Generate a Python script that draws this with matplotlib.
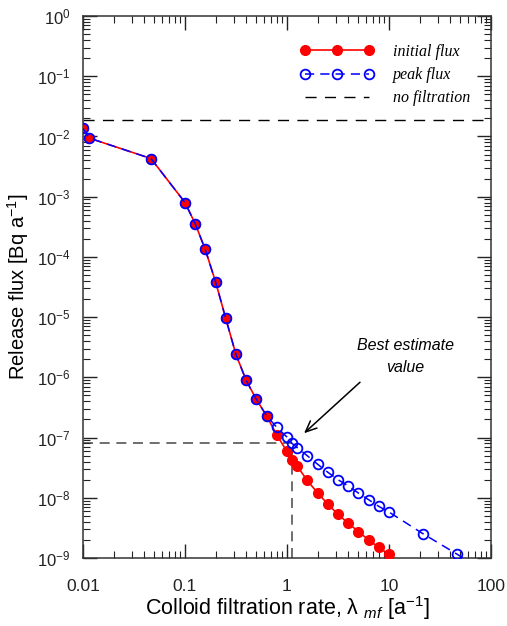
import numpy as np
import matplotlib
matplotlib.use("Agg")
from matplotlib import pyplot as plt
from matplotlib.ticker import LogLocator, FuncFormatter, NullFormatter

plt.rcParams["font.family"] = ["Liberation Sans", "DejaVu Sans"]
plt.rcParams["mathtext.fontset"] = "custom"
plt.rcParams["mathtext.rm"] = "Liberation Sans"
plt.rcParams["mathtext.it"] = "Liberation Sans:italic"

# colloid filtration rate [1/a]
rate = [0.01, 0.0115, 0.0464, 0.1, 0.126, 0.158, 0.2, 0.251, 0.316, 0.398,
        0.501, 0.631, 0.794, 1.0, 1.12, 1.26, 1.58, 2.0, 2.51, 3.16,
        3.98, 5.01, 6.31, 7.94, 10.0, 21.5]
initial_flux = [1.36e-2, 9.4e-3, 4.3e-3, 8.0e-4, 3.55e-4, 1.33e-4, 3.8e-5,
                9.5e-6, 2.4e-6, 8.9e-7, 4.3e-7, 2.3e-7, 1.1e-7, 5.9e-8,
                4.2e-8, 3.35e-8, 1.94e-8, 1.2e-8, 7.9e-9, 5.3e-9, 3.8e-9,
                2.75e-9, 2.0e-9, 1.5e-9, 1.15e-9, 4.3e-10]

rate_peak = [0.01, 0.0115, 0.0464, 0.1, 0.126, 0.158, 0.2, 0.251, 0.316, 0.398,
             0.501, 0.631, 0.794, 1.0, 1.12, 1.26, 1.58, 2.0, 2.51, 3.16,
             3.98, 5.01, 6.31, 7.94, 10.0, 21.4, 46.8, 100.0]
peak_flux = [1.36e-2, 9.4e-3, 4.3e-3, 8.0e-4, 3.55e-4, 1.33e-4, 3.8e-5,
             9.5e-6, 2.4e-6, 8.9e-7, 4.3e-7, 2.3e-7, 1.48e-7, 1.02e-7,
             8.0e-8, 6.8e-8, 5.0e-8, 3.6e-8, 2.66e-8, 2.0e-8, 1.58e-8,
             1.2e-8, 9.3e-9, 7.2e-9, 5.8e-9, 2.55e-9, 1.15e-9, 5.0e-10]

no_filtration = 1.87e-2
best_rate = 1.11
best_flux = 8.2e-8

fig = plt.figure(figsize=(5.07, 6.26), dpi=100)
ax = fig.add_axes([0.1637, 0.1086, 0.8047, 0.8658])

ax.plot(rate, initial_flux, color="red", lw=1.2, marker="o", ms=7,
        mfc="red", mec="red", label="initial flux", zorder=3)
ax.plot(rate_peak, peak_flux, color="blue", lw=1.1, ls=(0, (6, 4)), marker="o",
        ms=7, mfc="none", mec="blue", mew=1.3, label="peak flux", zorder=4)
ax.axhline(no_filtration, color="black", lw=1, ls=(0, (8, 6)),
           label="no filtration", zorder=2)

# best estimate guide lines
ax.plot([0.01, best_rate], [best_flux, best_flux], color="#555555", lw=1.2,
        ls=(0, (6, 4)), zorder=1)
ax.plot([best_rate, best_rate], [1e-9, best_flux], color="#555555", lw=1.2,
        ls=(0, (6, 4)), zorder=1)

ax.text(14.4, 2.2e-6, "Best estimate\nvalue", ha="center", va="center",
        fontsize=11.5, style="italic", linespacing=1.6)
ax.annotate("", xy=(1.47, 1.18e-7), xytext=(5.2, 8.3e-7),
            arrowprops=dict(arrowstyle="->,head_length=0.8,head_width=0.35",
                            color="black", lw=1.1, shrinkA=0, shrinkB=0))

ax.set_xscale("log")
ax.set_yscale("log")
ax.set_xlim(0.01, 100)
ax.set_ylim(1e-9, 1)

ax.xaxis.set_major_locator(LogLocator(base=10, numticks=10))
ax.xaxis.set_minor_locator(LogLocator(base=10, subs=np.arange(2, 10), numticks=100))
ax.yaxis.set_major_locator(LogLocator(base=10, numticks=20))
ax.yaxis.set_minor_locator(LogLocator(base=10, subs=np.arange(2, 10), numticks=100))
ax.xaxis.set_major_formatter(FuncFormatter(lambda v, p: "%g" % v))
ax.xaxis.set_minor_formatter(NullFormatter())
ax.yaxis.set_minor_formatter(NullFormatter())

ax.tick_params(which="both", direction="in", top=True, right=True,
               labelsize=12.5, colors="#222222")
ax.tick_params(axis="y", labelsize=12)
ax.tick_params(which="major", length=10, width=1)
ax.tick_params(which="minor", length=5, width=0.8)
ax.tick_params(axis="x", pad=15)
ax.tick_params(axis="y", pad=9)
for s in ax.spines.values():
    s.set_linewidth(1.1)
    s.set_color("#333333")

ax.set_ylabel("Release flux [Bq a$^{\\mathregular{-1}}$]", fontsize=14.5)
ax.yaxis.set_label_coords(-0.127, 0.5)
ax.set_xlabel("Colloid filtration rate, λ $_{mf}$ [a$^{\\mathregular{-1}}$]",
              fontsize=15.5, labelpad=0)

leg = ax.legend(loc="upper right", frameon=False, numpoints=3, handlelength=4.6,
                prop={"family": ["Liberation Serif", "DejaVu Serif"],
                      "style": "italic", "size": 11.5},
                bbox_to_anchor=(0.985, 0.975), labelspacing=0.45, handletextpad=1.2)

fig.savefig("out.png", dpi=100)
